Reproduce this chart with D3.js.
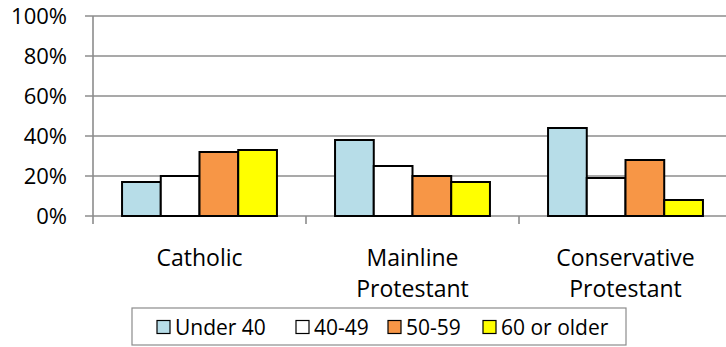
<!DOCTYPE html>
<html><head><meta charset="utf-8">
<script src="https://cdn.jsdelivr.net/npm/d3@7"></script>
<style>body{margin:0;background:#fff}svg{display:block}text{font-family:"Open Sans",sans-serif;fill:#000}</style>
</head><body>
<script>
const categories = [["Catholic"], ["Mainline", "Protestant"], ["Conservative", "Protestant"]];
const seriesNames = ["Under 40", "40-49", "50-59", "60 or older"];
const seriesColors = ["#B7DDE8", "#FFFFFF", "#F79646", "#FFFF00"];
const under40 = [17, 38, 44];
const age40to49 = [20, 25, 19];
const age50to59 = [32, 20, 28];
const age60plus = [33, 17, 8];
const yTicks = [0, 20, 40, 60, 80, 100];

const values = [under40, age40to49, age50to59, age60plus];
const W = 726, H = 347;
const svg = d3.select("body").append("svg").attr("width", W).attr("height", H);

const x = d3.scaleBand().domain(d3.range(categories.length)).range([93, 732]).paddingInner(0).paddingOuter(0);
const y = d3.scaleLinear().domain([0, 100]).range([216, 16]);
const xs = d3.scaleBand().domain(d3.range(seriesNames.length)).range([0, x.bandwidth()]).paddingOuter(0.75).paddingInner(0);

svg.append("g").selectAll("line").data(yTicks).join("line")
  .attr("x1", 85).attr("x2", W).attr("y1", d => y(d)).attr("y2", d => y(d))
  .attr("stroke", "#8c8c8c").attr("stroke-width", 1.6);

svg.append("line").attr("x1", 93).attr("x2", 93).attr("y1", y(100)).attr("y2", 224)
  .attr("stroke", "#8c8c8c").attr("stroke-width", 1.6);

svg.append("g").selectAll("line").data(d3.range(1, categories.length)).join("line")
  .attr("x1", d => x(d)).attr("x2", d => x(d)).attr("y1", 216).attr("y2", 224)
  .attr("stroke", "#8c8c8c").attr("stroke-width", 1.6);

svg.append("g").selectAll("text").data(yTicks).join("text")
  .attr("x", 67).attr("y", d => y(d)).attr("dy", "0.36em").attr("text-anchor", "end")
  .attr("font-size", 22).text(d => d + "%");

const gs = svg.append("g").selectAll("g").data(values).join("g")
  .attr("fill", (d, i) => seriesColors[i]);
gs.each(function(vals, si) {
  d3.select(this).selectAll("rect").data(vals).join("rect")
    .attr("x", (v, ci) => x(ci) + xs(si))
    .attr("width", xs.bandwidth())
    .attr("y", v => y(v))
    .attr("height", v => y(0) - y(v))
    .attr("stroke", "#000").attr("stroke-width", 2);
});

const cl = svg.append("g").selectAll("text").data(categories).join("text")
  .attr("x", (d, i) => x(i) + x.bandwidth() / 2).attr("y", 266)
  .attr("text-anchor", "middle").attr("font-size", 23);
cl.selectAll("tspan").data(d => d).join("tspan")
  .attr("x", function() { return d3.select(this.parentNode).attr("x"); })
  .attr("dy", (d, i) => i === 0 ? 0 : 31).text(d => d);

svg.append("rect").attr("x", 132).attr("y", 308).attr("width", 494).attr("height", 37)
  .attr("fill", "#fff").attr("stroke", "#8c8c8c").attr("stroke-width", 1.2);
const legX = [157, 296, 388, 483];
const lg = svg.append("g").selectAll("g").data(seriesNames).join("g")
  .attr("transform", (d, i) => `translate(${legX[i]},327)`);
lg.append("rect").attr("x", 0).attr("y", -6.5).attr("width", 13).attr("height", 13)
  .attr("fill", (d, i) => seriesColors[i]).attr("stroke", "#000").attr("stroke-width", 1.2);
lg.append("text").attr("x", 18).attr("y", 0).attr("dy", "0.36em").attr("font-size", 21).text(d => d);
</script>
</body></html>
